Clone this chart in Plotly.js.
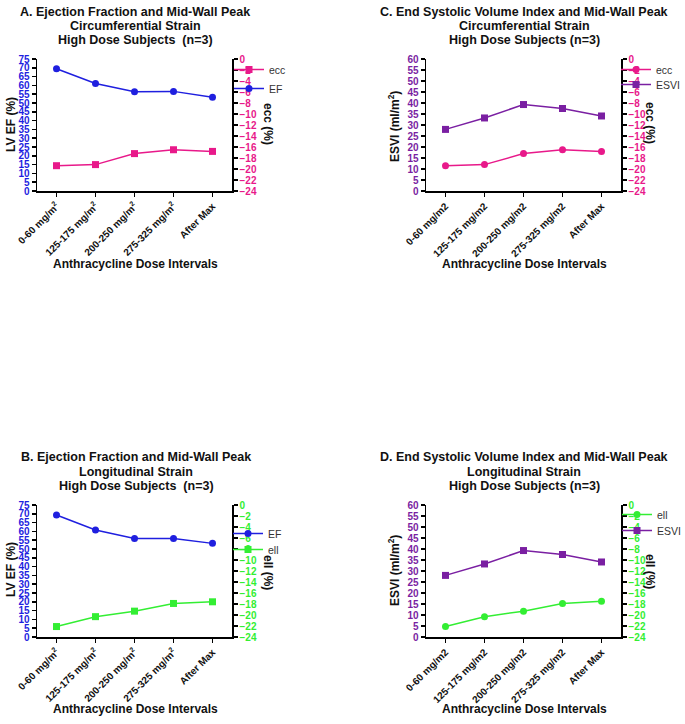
<!DOCTYPE html>
<html><head><meta charset="utf-8">
<script src="https://cdn.plot.ly/plotly-3.0.1.min.js"></script>
<style>html,body{margin:0;padding:0;background:#fff}#chart{width:685px;height:724px}</style>
</head><body><div id="chart"></div>
<script>
// ---- data ----
const categoriesSup = ["0-60 mg/m<sup>2</sup>", "125-175 mg/m<sup>2</sup>", "200-250 mg/m<sup>2</sup>", "275-325 mg/m<sup>2</sup>", "After Max"];
const categoriesPlain = ["0-60 mg/m2", "125-175 mg/m2", "200-250 mg/m2", "275-325 mg/m2", "After Max"];
const efA = [69.5, 61.1, 56.4, 56.6, 53.3];
const eccA = [-19.4, -19.2, -17.2, -16.5, -16.8];
const esviC = [28.0, 33.2, 39.3, 37.5, 34.1];
const eccC = [-19.4, -19.2, -17.2, -16.5, -16.8];
const efB = [69.3, 60.8, 56.0, 56.0, 53.2];
const ellB = [-22.1, -20.3, -19.3, -17.9, -17.6];
const esviD = [28.0, 33.2, 39.3, 37.5, 34.1];
const ellD = [-22.1, -20.3, -19.3, -17.9, -17.5];
const titleA = ['A. Ejection Fraction and Mid-Wall Peak', 'Circumferential Strain', 'High Dose Subjects  (n=3)'];
const titleC = ['C. End Systolic Volume Index and Mid-Wall Peak', 'Circumferential Strain', 'High Dose Subjects (n=3)'];
const titleB = ['B. Ejection Fraction and Mid-Wall Peak', 'Longitudinal Strain', 'High Dose Subjects  (n=3)'];
const titleD = ['D. End Systolic Volume Index and Mid-Wall Peak', 'Longitudinal Strain', 'High Dose Subjects (n=3)'];

// ---- styles ----
const FONT = "Arial, 'Liberation Sans', sans-serif";
const BLUE = "#1f1fdf", PINK = "#e8198a", PURPLE = "#7a1fa2", GREEN = "#33ee33";
const W = 685, H = 724;
const px = v => v / W, py = v => 1 - v / H;

function tr(x, y, name, color, symbol, xa, ya, leg) {
  return {x: x, y: y, name: name, type: 'scatter', mode: 'lines+markers',
    line: {color: color, width: 1.5}, marker: {color: color, symbol: symbol, size: 7},
    xaxis: xa, yaxis: ya, legend: leg, cliponaxis: false};
}
const data = [
  tr(categoriesSup, eccA, 'ecc', PINK, 'square', 'x', 'y2', 'legend'),
  tr(categoriesSup, efA, 'EF', BLUE, 'circle', 'x', 'y', 'legend2'),
  tr(categoriesPlain, eccC, 'ecc', PINK, 'circle', 'x2', 'y4', 'legend3'),
  tr(categoriesPlain, esviC, 'ESVI', PURPLE, 'square', 'x2', 'y3', 'legend4'),
  tr(categoriesSup, efB, 'EF', BLUE, 'circle', 'x3', 'y5', 'legend5'),
  tr(categoriesSup, ellB, 'ell', GREEN, 'square', 'x3', 'y6', 'legend6'),
  tr(categoriesPlain, ellD, 'ell', GREEN, 'circle', 'x4', 'y8', 'legend7'),
  tr(categoriesPlain, esviD, 'ESVI', PURPLE, 'square', 'x4', 'y7', 'legend8')
];

const TICK = 10;
function xax(dom, anchor) {
  return {domain: dom, anchor: anchor, type: 'category', range: [-0.5, 4.5],
    showline: true, linecolor: '#000', linewidth: 1.5, ticks: 'outside', ticklen: 4, tickwidth: 1.5, tickcolor: '#000',
    showgrid: false, zeroline: false, tickangle: -45,
    tickfont: {family: FONT, size: TICK, color: '#111', weight: 'bold'}};
}
function yl(dom, anchor, max, color) {
  return {domain: dom, anchor: anchor, range: [0, max], dtick: 5, tick0: 0,
    showline: true, linecolor: '#000', linewidth: 1.5, ticks: 'outside', ticklen: 4, tickwidth: 1.5, tickcolor: '#000',
    showgrid: false, zeroline: false, tickfont: {family: FONT, size: TICK, color: color, weight: 'bold'}};
}
function yr(over, anchor, color) {
  return {overlaying: over, anchor: anchor, side: 'right', range: [-24, 0], dtick: 2, tick0: 0,
    showline: true, linecolor: '#000', linewidth: 1.5, ticks: 'outside', ticklen: 4, tickwidth: 1.5, tickcolor: '#000',
    showgrid: false, zeroline: false, tickfont: {family: FONT, size: TICK, color: color, weight: 'bold'}};
}
const xL = [px(37), px(232)], xR = [px(426), px(621)];
const yT = [py(191), py(59)], yB = [py(637), py(505)];

function leg(textX, centerY) {
  return {x: px(textX - 39), y: py(centerY - 14), xanchor: 'left', yanchor: 'top', bgcolor: 'rgba(0,0,0,0)',
    font: {family: FONT, size: 10.5, color: '#333'}, traceorder: 'normal'};
}

function ann(text, x, y, opts) {
  return Object.assign({text: text, x: px(x), y: py(y), xref: 'paper', yref: 'paper', showarrow: false,
    xanchor: 'center', yanchor: 'middle', font: {family: FONT, size: 12, color: '#111', weight: 'bold'}}, opts || {});
}
const titleFont = {family: FONT, size: 12.5, color: '#111', weight: 'bold'};
function titleLines(lines, cx, ys) {
  return lines.map((t, i) => ann(t, cx, ys[i], {font: titleFont}));
}
const annotations = [].concat(
  titleLines(titleA, 135, [12, 25.5, 40]),
  titleLines(titleC, 524, [12, 25.5, 40]),
  titleLines(titleB, 136, [457, 471.5, 486]),
  titleLines(titleD, 524, [457, 471.5, 486]),
  [
  ann('Anthracycline Dose Intervals', 135, 264),
  ann('Anthracycline Dose Intervals', 524, 264),
  ann('Anthracycline Dose Intervals', 135, 709),
  ann('Anthracycline Dose Intervals', 524, 709),
  ann('LV EF (%)', 11, 125, {textangle: -90}),
  ann('LV EF (%)', 11, 570, {textangle: -90}),
  ann('ESVI (ml/m<sup>2</sup>)', 394, 127, {textangle: -90}),
  ann('ESVI (ml/m<sup>2</sup>)', 394, 571, {textangle: -90}),
  ann('ecc (%)', 268, 124, {textangle: 90}),
  ann('ecc (%)', 650, 123, {textangle: 90}),
  ann('ell (%)', 268, 572, {textangle: 90}),
  ann('ell (%)', 650, 571, {textangle: 90})
  ]);

const layout = {
  width: W, height: H, margin: {l: 0, r: 0, t: 0, b: 0, autoexpand: false},
  paper_bgcolor: '#fff', plot_bgcolor: 'rgba(0,0,0,0)', showlegend: true,
  font: {family: FONT},
  xaxis: xax(xL, 'y'), yaxis: yl(yT, 'x', 75, BLUE), yaxis2: yr('y', 'x', PINK),
  xaxis2: xax(xR, 'y3'), yaxis3: yl(yT, 'x2', 60, PURPLE), yaxis4: yr('y3', 'x2', PINK),
  xaxis3: xax(xL, 'y5'), yaxis5: yl(yB, 'x3', 75, BLUE), yaxis6: yr('y5', 'x3', GREEN),
  xaxis4: xax(xR, 'y7'), yaxis7: yl(yB, 'x4', 60, PURPLE), yaxis8: yr('y7', 'x4', GREEN),
  legend: leg(268, 69), legend2: leg(268, 88),
  legend3: leg(655, 69), legend4: leg(655, 84),
  legend5: leg(267, 533), legend6: leg(267, 549),
  legend7: leg(656, 514), legend8: leg(656, 530),
  annotations: annotations
};
Plotly.newPlot('chart', data, layout, {displayModeBar: false, staticPlot: true});
</script></body></html>
